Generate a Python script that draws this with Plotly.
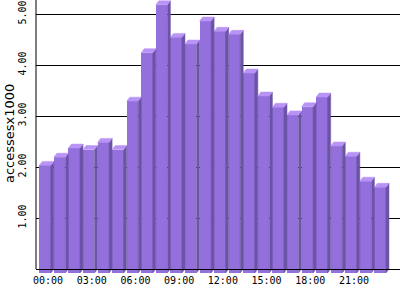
import plotly.graph_objects as go

# ---- data ----
hours = [f"{h:02d}:00" for h in range(24)]
values = [2.11, 2.27, 2.45, 2.42, 2.56, 2.42, 3.37, 4.32, 5.26, 4.62, 4.49, 4.94,
          4.74, 4.68, 3.92, 3.47, 3.25, 3.10, 3.26, 3.45, 2.49, 2.29, 1.80, 1.68]
tick_hours = [0, 3, 6, 9, 12, 15, 18, 21]
tick_labels = [hours[h] for h in tick_hours]
y_ticks = [1, 2, 3, 4, 5]
y_title = "accessesx1000"

# ---- 3D bar geometry (in axis units) ----
L, R = -0.60, 0.19      # front face left/right relative to slot
DX, DY = 0.21, 0.078    # depth offset
FRONT = "#9370DB"
SIDE = "#6C53A6"
TOP = "#B993F6"

xs = list(range(len(values)))
side_x, side_y, top_x, top_y = [], [], [], []
for i, v in zip(xs, values):
    fy = v - DY
    side_x += [i + R, i + R, i + R + DX, i + R + DX, i + R, None]
    side_y += [-DY, fy, v, 0, -DY, None]
    top_x += [i + L, i + R, i + R + DX, i + L + DX, i + L, None]
    top_y += [fy, fy, v, v, fy, None]

fig = go.Figure()
fig.add_trace(go.Bar(x=xs, y=values, base=-DY, offset=L, width=R - L,
                     marker=dict(color=FRONT, line=dict(width=0)),
                     hoverinfo="skip"))
fig.add_trace(go.Scatter(x=side_x, y=side_y, mode="lines", fill="toself",
                         fillcolor=SIDE, line=dict(color=SIDE, width=0.5),
                         hoverinfo="skip"))
fig.add_trace(go.Scatter(x=top_x, y=top_y, mode="lines", fill="toself",
                         fillcolor=TOP, line=dict(color=TOP, width=0.5),
                         hoverinfo="skip"))

PLOT_H = 273
ymin = -4 / 51
ymax = 269 / 51
mono = dict(family="DejaVu Sans Mono", size=10, color="black")

fig.update_layout(
    width=400, height=300,
    margin=dict(l=36, r=0, t=0, b=27, pad=0),
    paper_bgcolor="white", plot_bgcolor="white",
    showlegend=False,
    bargap=0,
    xaxis=dict(
        range=[-0.824, 24.157],
        tickvals=tick_hours, ticktext=tick_labels,
        tickfont=mono, ticks="", showgrid=False, zeroline=False,
        showline=True, linecolor="black", linewidth=1,
        anchor="free", position=4 / PLOT_H,
        ticklabelstandoff=2,
    ),
    yaxis=dict(
        range=[ymin, ymax],
        tickvals=y_ticks, tickformat=".2f", tickangle=-90,
        tickfont=mono, ticks="",
        showgrid=True, gridcolor="black", gridwidth=1,
        zeroline=False, showline=False,
        ticklabelstandoff=7,
    ),
    shapes=[dict(type="line", xref="paper", yref="paper",
                 x0=0, x1=0, y0=4 / PLOT_H, y1=1,
                 line=dict(color="black", width=1), layer="above")],
    annotations=[dict(text=y_title, textangle=-90, xref="paper", yref="paper",
                      x=-27 / 364, y=(PLOT_H - 134) / PLOT_H,
                      xanchor="center", yanchor="middle", showarrow=False,
                      font=dict(family="DejaVu Sans", size=13, color="black"))],
)

fig.write_html("out.html")
